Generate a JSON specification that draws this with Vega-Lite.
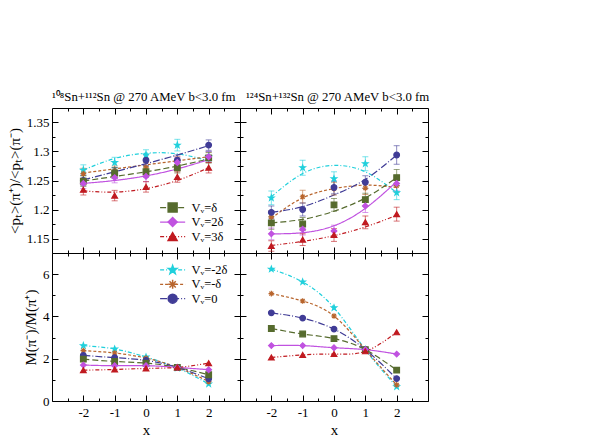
{
"$schema": "https://vega.github.io/schema/vega-lite/v6.json",
"autosize": {"type": "pad"},
"padding": {"left": 6, "top": 90, "right": 5, "bottom": 5},
"config": {
  "view": {"stroke": "#000", "strokeWidth": 1},
  "axis": {"domain": false, "grid": false, "tickColor": "#000", "tickWidth": 1, "labelFont": "Liberation Serif", "labelFontSize": 13, "labelColor": "#000", "titleFont": "Liberation Serif", "titleFontSize": 15, "titleFontWeight": "normal", "titleColor": "#000"},
  "title": {"font": "Liberation Serif", "fontSize": 12.8, "fontWeight": "normal", "color": "#000"},
  "text": {"font": "Liberation Serif"}
},
"datasets": {
  "pts": [
    {"p":"TL","s":"m2","x":-2,"y":1.268,"lo":1.259,"hi":1.277},
    {"p":"TL","s":"m2","x":-1,"y":1.281,"lo":1.272,"hi":1.290},
    {"p":"TL","s":"m2","x":0,"y":1.294,"lo":1.285,"hi":1.303},
    {"p":"TL","s":"m2","x":1,"y":1.311,"lo":1.301,"hi":1.321},
    {"p":"TL","s":"m2","x":2,"y":1.291,"lo":1.282,"hi":1.300},
    {"p":"TL","s":"m1","x":-2,"y":1.262,"lo":1.253,"hi":1.271},
    {"p":"TL","s":"m1","x":-1,"y":1.266,"lo":1.257,"hi":1.275},
    {"p":"TL","s":"m1","x":0,"y":1.272,"lo":1.263,"hi":1.281},
    {"p":"TL","s":"m1","x":1,"y":1.282,"lo":1.273,"hi":1.291},
    {"p":"TL","s":"m1","x":2,"y":1.290,"lo":1.281,"hi":1.299},
    {"p":"TL","s":"z","x":-2,"y":1.250,"lo":1.241,"hi":1.259},
    {"p":"TL","s":"z","x":-1,"y":1.263,"lo":1.254,"hi":1.272},
    {"p":"TL","s":"z","x":0,"y":1.285,"lo":1.276,"hi":1.294},
    {"p":"TL","s":"z","x":1,"y":1.285,"lo":1.276,"hi":1.294},
    {"p":"TL","s":"z","x":2,"y":1.311,"lo":1.302,"hi":1.320},
    {"p":"TL","s":"p1","x":-2,"y":1.249,"lo":1.240,"hi":1.258},
    {"p":"TL","s":"p1","x":-1,"y":1.263,"lo":1.254,"hi":1.272},
    {"p":"TL","s":"p1","x":0,"y":1.265,"lo":1.256,"hi":1.274},
    {"p":"TL","s":"p1","x":1,"y":1.272,"lo":1.263,"hi":1.281},
    {"p":"TL","s":"p1","x":2,"y":1.289,"lo":1.280,"hi":1.298},
    {"p":"TL","s":"p2","x":-2,"y":1.245,"lo":1.236,"hi":1.254},
    {"p":"TL","s":"p2","x":-1,"y":1.255,"lo":1.246,"hi":1.264},
    {"p":"TL","s":"p2","x":0,"y":1.257,"lo":1.248,"hi":1.266},
    {"p":"TL","s":"p2","x":1,"y":1.281,"lo":1.272,"hi":1.290},
    {"p":"TL","s":"p2","x":2,"y":1.291,"lo":1.282,"hi":1.300},
    {"p":"TL","s":"p3","x":-2,"y":1.234,"lo":1.225,"hi":1.243},
    {"p":"TL","s":"p3","x":-1,"y":1.224,"lo":1.215,"hi":1.233},
    {"p":"TL","s":"p3","x":0,"y":1.239,"lo":1.230,"hi":1.248},
    {"p":"TL","s":"p3","x":1,"y":1.256,"lo":1.247,"hi":1.265},
    {"p":"TL","s":"p3","x":2,"y":1.272,"lo":1.263,"hi":1.281},
    {"p":"TR","s":"m2","x":-2,"y":1.220,"lo":1.208,"hi":1.232},
    {"p":"TR","s":"m2","x":-1,"y":1.272,"lo":1.259,"hi":1.285},
    {"p":"TR","s":"m2","x":0,"y":1.253,"lo":1.241,"hi":1.265},
    {"p":"TR","s":"m2","x":1,"y":1.279,"lo":1.267,"hi":1.291},
    {"p":"TR","s":"m2","x":2,"y":1.229,"lo":1.217,"hi":1.241},
    {"p":"TR","s":"m1","x":-2,"y":1.187,"lo":1.176,"hi":1.198},
    {"p":"TR","s":"m1","x":-1,"y":1.222,"lo":1.211,"hi":1.233},
    {"p":"TR","s":"m1","x":0,"y":1.236,"lo":1.225,"hi":1.247},
    {"p":"TR","s":"m1","x":1,"y":1.237,"lo":1.226,"hi":1.248},
    {"p":"TR","s":"m1","x":2,"y":1.241,"lo":1.230,"hi":1.252},
    {"p":"TR","s":"z","x":-2,"y":1.195,"lo":1.184,"hi":1.206},
    {"p":"TR","s":"z","x":-1,"y":1.200,"lo":1.189,"hi":1.211},
    {"p":"TR","s":"z","x":0,"y":1.238,"lo":1.227,"hi":1.249},
    {"p":"TR","s":"z","x":1,"y":1.247,"lo":1.236,"hi":1.258},
    {"p":"TR","s":"z","x":2,"y":1.294,"lo":1.278,"hi":1.310},
    {"p":"TR","s":"p1","x":-2,"y":1.177,"lo":1.166,"hi":1.188},
    {"p":"TR","s":"p1","x":-1,"y":1.175,"lo":1.164,"hi":1.186},
    {"p":"TR","s":"p1","x":0,"y":1.208,"lo":1.197,"hi":1.219},
    {"p":"TR","s":"p1","x":1,"y":1.217,"lo":1.206,"hi":1.228},
    {"p":"TR","s":"p1","x":2,"y":1.255,"lo":1.241,"hi":1.269},
    {"p":"TR","s":"p2","x":-2,"y":1.158,"lo":1.148,"hi":1.168},
    {"p":"TR","s":"p2","x":-1,"y":1.166,"lo":1.156,"hi":1.176},
    {"p":"TR","s":"p2","x":0,"y":1.163,"lo":1.153,"hi":1.173},
    {"p":"TR","s":"p2","x":1,"y":1.206,"lo":1.195,"hi":1.217},
    {"p":"TR","s":"p2","x":2,"y":1.245,"lo":1.232,"hi":1.258},
    {"p":"TR","s":"p3","x":-2,"y":1.137,"lo":1.128,"hi":1.146},
    {"p":"TR","s":"p3","x":-1,"y":1.148,"lo":1.138,"hi":1.158},
    {"p":"TR","s":"p3","x":0,"y":1.156,"lo":1.145,"hi":1.167},
    {"p":"TR","s":"p3","x":1,"y":1.178,"lo":1.167,"hi":1.189},
    {"p":"TR","s":"p3","x":2,"y":1.192,"lo":1.180,"hi":1.204},
    {"p":"BL","s":"m2","x":-2,"y":2.62},{"p":"BL","s":"m2","x":-1,"y":2.46},{"p":"BL","s":"m2","x":0,"y":2.08},{"p":"BL","s":"m2","x":1,"y":1.56},{"p":"BL","s":"m2","x":2,"y":0.81},
    {"p":"BL","s":"m1","x":-2,"y":2.38},{"p":"BL","s":"m1","x":-1,"y":2.27},{"p":"BL","s":"m1","x":0,"y":2.03},{"p":"BL","s":"m1","x":1,"y":1.59},{"p":"BL","s":"m1","x":2,"y":0.92},
    {"p":"BL","s":"z","x":-2,"y":2.16},{"p":"BL","s":"z","x":-1,"y":2.05},{"p":"BL","s":"z","x":0,"y":1.92},{"p":"BL","s":"z","x":1,"y":1.59},{"p":"BL","s":"z","x":2,"y":1.05},
    {"p":"BL","s":"p1","x":-2,"y":1.98},{"p":"BL","s":"p1","x":-1,"y":1.87},{"p":"BL","s":"p1","x":0,"y":1.79},{"p":"BL","s":"p1","x":1,"y":1.59},{"p":"BL","s":"p1","x":2,"y":1.24},
    {"p":"BL","s":"p2","x":-2,"y":1.70},{"p":"BL","s":"p2","x":-1,"y":1.67},{"p":"BL","s":"p2","x":0,"y":1.67},{"p":"BL","s":"p2","x":1,"y":1.59},{"p":"BL","s":"p2","x":2,"y":1.48},
    {"p":"BL","s":"p3","x":-2,"y":1.46},{"p":"BL","s":"p3","x":-1,"y":1.49},{"p":"BL","s":"p3","x":0,"y":1.54},{"p":"BL","s":"p3","x":1,"y":1.59},{"p":"BL","s":"p3","x":2,"y":1.79},
    {"p":"BR","s":"m2","x":-2,"y":6.24},{"p":"BR","s":"m2","x":-1,"y":5.63},{"p":"BR","s":"m2","x":0,"y":4.41},{"p":"BR","s":"m2","x":1,"y":2.43},{"p":"BR","s":"m2","x":2,"y":0.68},
    {"p":"BR","s":"m1","x":-2,"y":5.08},{"p":"BR","s":"m1","x":-1,"y":4.73},{"p":"BR","s":"m1","x":0,"y":4.02},{"p":"BR","s":"m1","x":1,"y":2.43},{"p":"BR","s":"m1","x":2,"y":0.76},
    {"p":"BR","s":"z","x":-2,"y":4.17},{"p":"BR","s":"z","x":-1,"y":3.92},{"p":"BR","s":"z","x":0,"y":3.40},{"p":"BR","s":"z","x":1,"y":2.43},{"p":"BR","s":"z","x":2,"y":1.06},
    {"p":"BR","s":"p1","x":-2,"y":3.43},{"p":"BR","s":"p1","x":-1,"y":3.17},{"p":"BR","s":"p1","x":0,"y":2.95},{"p":"BR","s":"p1","x":1,"y":2.43},{"p":"BR","s":"p1","x":2,"y":1.46},
    {"p":"BR","s":"p2","x":-2,"y":2.62},{"p":"BR","s":"p2","x":-1,"y":2.62},{"p":"BR","s":"p2","x":0,"y":2.52},{"p":"BR","s":"p2","x":1,"y":2.43},{"p":"BR","s":"p2","x":2,"y":2.22},
    {"p":"BR","s":"p3","x":-2,"y":2.06},{"p":"BR","s":"p3","x":-1,"y":2.18},{"p":"BR","s":"p3","x":0,"y":2.22},{"p":"BR","s":"p3","x":1,"y":2.35},{"p":"BR","s":"p3","x":2,"y":3.25}
  ],
  "fit": [
    {"p":"TL","s":"m2","x":-2,"y":1.268},{"p":"TL","s":"m2","x":-1,"y":1.288},{"p":"TL","s":"m2","x":0,"y":1.297},{"p":"TL","s":"m2","x":1,"y":1.296},{"p":"TL","s":"m2","x":2,"y":1.284},
    {"p":"TL","s":"m1","x":-2,"y":1.263},{"p":"TL","s":"m1","x":-1,"y":1.270},{"p":"TL","s":"m1","x":0,"y":1.277},{"p":"TL","s":"m1","x":1,"y":1.284},{"p":"TL","s":"m1","x":2,"y":1.291},
    {"p":"TL","s":"z","x":-2,"y":1.251},{"p":"TL","s":"z","x":-1,"y":1.265},{"p":"TL","s":"z","x":0,"y":1.279},{"p":"TL","s":"z","x":1,"y":1.294},{"p":"TL","s":"z","x":2,"y":1.310},
    {"p":"TL","s":"p1","x":-2,"y":1.249},{"p":"TL","s":"p1","x":-1,"y":1.257},{"p":"TL","s":"p1","x":0,"y":1.265},{"p":"TL","s":"p1","x":1,"y":1.275},{"p":"TL","s":"p1","x":2,"y":1.287},
    {"p":"TL","s":"p2","x":-2,"y":1.245},{"p":"TL","s":"p2","x":-1,"y":1.250},{"p":"TL","s":"p2","x":0,"y":1.258},{"p":"TL","s":"p2","x":1,"y":1.270},{"p":"TL","s":"p2","x":2,"y":1.286},
    {"p":"TL","s":"p3","x":-2,"y":1.232},{"p":"TL","s":"p3","x":-1,"y":1.230},{"p":"TL","s":"p3","x":0,"y":1.236},{"p":"TL","s":"p3","x":1,"y":1.250},{"p":"TL","s":"p3","x":2,"y":1.272},
    {"p":"TR","s":"m2","x":-2,"y":1.222},{"p":"TR","s":"m2","x":-1,"y":1.262},{"p":"TR","s":"m2","x":0,"y":1.276},{"p":"TR","s":"m2","x":1,"y":1.265},{"p":"TR","s":"m2","x":2,"y":1.229},
    {"p":"TR","s":"m1","x":-2,"y":1.185},{"p":"TR","s":"m1","x":-1,"y":1.220},{"p":"TR","s":"m1","x":0,"y":1.236},{"p":"TR","s":"m1","x":1,"y":1.242},{"p":"TR","s":"m1","x":2,"y":1.238},
    {"p":"TR","s":"z","x":-2,"y":1.195},{"p":"TR","s":"z","x":-1,"y":1.205},{"p":"TR","s":"z","x":0,"y":1.225},{"p":"TR","s":"z","x":1,"y":1.252},{"p":"TR","s":"z","x":2,"y":1.294},
    {"p":"TR","s":"p1","x":-2,"y":1.177},{"p":"TR","s":"p1","x":-1,"y":1.183},{"p":"TR","s":"p1","x":0,"y":1.197},{"p":"TR","s":"p1","x":1,"y":1.220},{"p":"TR","s":"p1","x":2,"y":1.255},
    {"p":"TR","s":"p2","x":-2,"y":1.158},{"p":"TR","s":"p2","x":-1,"y":1.160},{"p":"TR","s":"p2","x":0,"y":1.172},{"p":"TR","s":"p2","x":1,"y":1.202},{"p":"TR","s":"p2","x":2,"y":1.248},
    {"p":"TR","s":"p3","x":-2,"y":1.138},{"p":"TR","s":"p3","x":-1,"y":1.145},{"p":"TR","s":"p3","x":0,"y":1.155},{"p":"TR","s":"p3","x":1,"y":1.170},{"p":"TR","s":"p3","x":2,"y":1.190},
    {"p":"BL","s":"m2","x":-2,"y":2.62},{"p":"BL","s":"m2","x":-1,"y":2.46},{"p":"BL","s":"m2","x":0,"y":2.08},{"p":"BL","s":"m2","x":1,"y":1.56},{"p":"BL","s":"m2","x":2,"y":0.81},
    {"p":"BL","s":"m1","x":-2,"y":2.38},{"p":"BL","s":"m1","x":-1,"y":2.27},{"p":"BL","s":"m1","x":0,"y":2.03},{"p":"BL","s":"m1","x":1,"y":1.59},{"p":"BL","s":"m1","x":2,"y":0.92},
    {"p":"BL","s":"z","x":-2,"y":2.16},{"p":"BL","s":"z","x":-1,"y":2.05},{"p":"BL","s":"z","x":0,"y":1.92},{"p":"BL","s":"z","x":1,"y":1.59},{"p":"BL","s":"z","x":2,"y":1.05},
    {"p":"BL","s":"p1","x":-2,"y":1.98},{"p":"BL","s":"p1","x":-1,"y":1.87},{"p":"BL","s":"p1","x":0,"y":1.79},{"p":"BL","s":"p1","x":1,"y":1.59},{"p":"BL","s":"p1","x":2,"y":1.24},
    {"p":"BL","s":"p2","x":-2,"y":1.70},{"p":"BL","s":"p2","x":-1,"y":1.67},{"p":"BL","s":"p2","x":0,"y":1.67},{"p":"BL","s":"p2","x":1,"y":1.59},{"p":"BL","s":"p2","x":2,"y":1.48},
    {"p":"BL","s":"p3","x":-2,"y":1.46},{"p":"BL","s":"p3","x":-1,"y":1.49},{"p":"BL","s":"p3","x":0,"y":1.54},{"p":"BL","s":"p3","x":1,"y":1.59},{"p":"BL","s":"p3","x":2,"y":1.79},
    {"p":"BR","s":"m2","x":-2,"y":6.24},{"p":"BR","s":"m2","x":-1,"y":5.63},{"p":"BR","s":"m2","x":0,"y":4.41},{"p":"BR","s":"m2","x":1,"y":2.43},{"p":"BR","s":"m2","x":2,"y":0.68},
    {"p":"BR","s":"m1","x":-2,"y":5.08},{"p":"BR","s":"m1","x":-1,"y":4.73},{"p":"BR","s":"m1","x":0,"y":4.02},{"p":"BR","s":"m1","x":1,"y":2.43},{"p":"BR","s":"m1","x":2,"y":0.76},
    {"p":"BR","s":"z","x":-2,"y":4.17},{"p":"BR","s":"z","x":-1,"y":3.92},{"p":"BR","s":"z","x":0,"y":3.40},{"p":"BR","s":"z","x":1,"y":2.43},{"p":"BR","s":"z","x":2,"y":1.06},
    {"p":"BR","s":"p1","x":-2,"y":3.43},{"p":"BR","s":"p1","x":-1,"y":3.17},{"p":"BR","s":"p1","x":0,"y":2.95},{"p":"BR","s":"p1","x":1,"y":2.43},{"p":"BR","s":"p1","x":2,"y":1.46},
    {"p":"BR","s":"p2","x":-2,"y":2.62},{"p":"BR","s":"p2","x":-1,"y":2.62},{"p":"BR","s":"p2","x":0,"y":2.52},{"p":"BR","s":"p2","x":1,"y":2.43},{"p":"BR","s":"p2","x":2,"y":2.22},
    {"p":"BR","s":"p3","x":-2,"y":2.06},{"p":"BR","s":"p3","x":-1,"y":2.18},{"p":"BR","s":"p3","x":0,"y":2.22},{"p":"BR","s":"p3","x":1,"y":2.35},{"p":"BR","s":"p3","x":2,"y":3.25}
  ],
  "leg": [
    {"p":"TL","s":"p1","y":1.2034,"label":"Vᵥ=δ"},
    {"p":"TL","s":"p2","y":1.1784,"label":"Vᵥ=2δ"},
    {"p":"TL","s":"p3","y":1.1534,"label":"Vᵥ=3δ"},
    {"p":"BL","s":"m2","y":6.20,"label":"Vᵥ=-2δ"},
    {"p":"BL","s":"m1","y":5.52,"label":"Vᵥ=-δ"},
    {"p":"BL","s":"z","y":4.84,"label":"Vᵥ=0"}
  ]
},
"columns": 2,
"spacing": 0,
"bounds": "flush",
"concat": [
 {
  "width": 188, "height": 145,
  "title": {"text": "¹⁰⁸Sn+¹¹²Sn @ 270 AMeV b<3.0 fm", "anchor": "start", "offset": 4, "frame": "group"},
  "resolve": {"axis": {"x": "independent", "y": "independent"}},
  "layer": [
   {"data": {"name": "fit"}, "transform": [{"filter": "datum.p === 'TL'"}],
    "mark": {"type": "line", "interpolate": "natural", "strokeWidth": 1.2},
    "encoding": {
      "x": {"field": "x", "type": "quantitative", "scale": {"domain": [-3, 3], "nice": false, "zero": false}, "axis": {"orient": "bottom", "values": [-2.5,-2,-1.5,-1,-0.5,0,0.5,1,1.5,2,2.5], "labels": false, "title": null, "tickSize": {"condition": {"test": "datum.value % 1 != 0", "value": -3}, "value": -6}}},
      "y": {"field": "y", "type": "quantitative", "scale": {"domain": [1.125, 1.375], "nice": false, "zero": false}, "axis": {"orient": "left", "values": [1.15,1.175,1.2,1.225,1.25,1.275,1.3,1.325,1.35], "tickSize": {"condition": {"test": "round(datum.value*1000) % 50 != 0", "value": -3}, "value": -6}, "labelExpr": "round(datum.value*1000) % 50 != 0 ? '' : '' + datum.value", "labelPadding": 9, "title": "<pₜ>(π⁺)/<pₜ>(π⁻)", "titlePadding": 4}},
      "color": {"field": "s", "type": "nominal", "legend": null, "scale": {"domain": ["m2","m1","z","p1","p2","p3"], "range": ["#20d0dc","#b8652d","#403c96","#566b2e","#c052e0","#c01a20"]}},
      "strokeDash": {"field": "s", "type": "nominal", "legend": null, "scale": {"domain": ["m2","m1","z","p1","p2","p3"], "range": [[4,2,1,2],[3,2],[7,2,1,2],[6,3],[1,0],[4,2,1,2,1,2]]}}
    }},
   {"data": {"name": "pts"}, "transform": [{"filter": "datum.p === 'TL'"}],
    "mark": {"type": "rule", "strokeWidth": 1, "opacity": 0.6},
    "encoding": {
      "x": {"field": "x", "type": "quantitative", "scale": {"domain": [-3, 3], "nice": false, "zero": false}, "axis": null},
      "y": {"field": "lo", "type": "quantitative", "scale": {"domain": [1.125, 1.375], "nice": false, "zero": false}, "axis": null},
      "y2": {"field": "hi"},
      "color": {"field": "s", "type": "nominal", "legend": null}
    }},
   {"data": {"name": "pts"}, "transform": [{"filter": "datum.p === 'TL'"}],
    "mark": {"type": "tick", "orient": "horizontal", "size": 6, "thickness": 1, "opacity": 0.6},
    "encoding": {
      "x": {"field": "x", "type": "quantitative", "scale": {"domain": [-3, 3], "nice": false, "zero": false}, "axis": null},
      "y": {"field": "lo", "type": "quantitative", "scale": {"domain": [1.125, 1.375], "nice": false, "zero": false}, "axis": null},
      "color": {"field": "s", "type": "nominal", "legend": null}
    }},
   {"data": {"name": "pts"}, "transform": [{"filter": "datum.p === 'TL'"}],
    "mark": {"type": "tick", "orient": "horizontal", "size": 6, "thickness": 1, "opacity": 0.6},
    "encoding": {
      "x": {"field": "x", "type": "quantitative", "scale": {"domain": [-3, 3], "nice": false, "zero": false}, "axis": null},
      "y": {"field": "hi", "type": "quantitative", "scale": {"domain": [1.125, 1.375], "nice": false, "zero": false}, "axis": null},
      "color": {"field": "s", "type": "nominal", "legend": null}
    }},
   {"data": {"name": "pts"}, "transform": [{"filter": "datum.p === 'TL'"}],
    "mark": {"type": "point", "filled": true, "opacity": 1, "size": 32, "strokeWidth": 1.2},
    "encoding": {
      "x": {"field": "x", "type": "quantitative", "scale": {"domain": [-3, 3], "nice": false, "zero": false}, "axis": {"orient": "top", "values": [-2.5,-2,-1.5,-1,-0.5,0,0.5,1,1.5,2,2.5], "labels": false, "title": null, "tickSize": {"condition": {"test": "datum.value % 1 != 0", "value": -3}, "value": -6}}},
      "y": {"field": "y", "type": "quantitative", "scale": {"domain": [1.125, 1.375], "nice": false, "zero": false}, "axis": {"orient": "right", "values": [1.15,1.175,1.2,1.225,1.25,1.275,1.3,1.325,1.35], "labels": false, "title": null, "tickSize": {"condition": {"test": "round(datum.value*1000) % 50 != 0", "value": -3}, "value": -6}}},
      "color": {"field": "s", "type": "nominal", "legend": null},
      "stroke": {"field": "s", "type": "nominal", "legend": null, "scale": {"domain": ["m2","m1","z","p1","p2","p3"], "range": ["#20d0dc","#b8652d","#403c96","#566b2e","#c052e0","#c01a20"]}},
      "shape": {"field": "s", "type": "nominal", "legend": null, "scale": {"domain": ["m2","m1","z","p1","p2","p3"], "range": ["M0,-1L0.24,-0.33L0.95,-0.31L0.38,0.12L0.59,0.81L0,0.4L-0.59,0.81L-0.38,0.12L-0.95,-0.31L-0.24,-0.33Z","M-1,0L1,0M0,-1L0,1M-0.7,-0.7L0.7,0.7M-0.7,0.7L0.7,-0.7","circle","square","diamond","triangle-up"]}}
    }},
   {"data": {"name": "leg"}, "transform": [{"filter": "datum.p === 'TL'"}],
    "mark": {"type": "rule", "strokeWidth": 1.2},
    "encoding": {
      "x": {"datum": 0.45, "type": "quantitative", "scale": {"domain": [-3, 3], "nice": false, "zero": false}, "axis": null},
      "x2": {"datum": 1.25},
      "y": {"field": "y", "type": "quantitative", "scale": {"domain": [1.125, 1.375], "nice": false, "zero": false}, "axis": null},
      "color": {"field": "s", "type": "nominal", "legend": null},
      "strokeDash": {"field": "s", "type": "nominal", "legend": null}
    }},
   {"data": {"name": "leg"}, "transform": [{"filter": "datum.p === 'TL'"}],
    "mark": {"type": "point", "filled": true, "opacity": 1, "size": 80, "strokeWidth": 1.5},
    "encoding": {
      "x": {"datum": 0.85, "type": "quantitative", "scale": {"domain": [-3, 3], "nice": false, "zero": false}, "axis": null},
      "y": {"field": "y", "type": "quantitative", "scale": {"domain": [1.125, 1.375], "nice": false, "zero": false}, "axis": null},
      "color": {"field": "s", "type": "nominal", "legend": null},
      "stroke": {"field": "s", "type": "nominal", "legend": null},
      "shape": {"field": "s", "type": "nominal", "legend": null}
    }},
   {"data": {"name": "leg"}, "transform": [{"filter": "datum.p === 'TL'"}],
    "mark": {"type": "text", "align": "left", "baseline": "middle", "fontSize": 12.5, "color": "#000"},
    "encoding": {
      "x": {"datum": 1.45, "type": "quantitative", "scale": {"domain": [-3, 3], "nice": false, "zero": false}, "axis": null},
      "y": {"field": "y", "type": "quantitative", "scale": {"domain": [1.125, 1.375], "nice": false, "zero": false}, "axis": null},
      "text": {"field": "label"}
    }}
  ]
 },
 {
  "width": 188, "height": 145,
  "title": {"text": "¹²⁴Sn+¹³²Sn @ 270 AMeV b<3.0 fm", "anchor": "start", "offset": 4, "frame": "group", "dx": 6},
  "resolve": {"axis": {"x": "independent", "y": "independent"}},
  "layer": [
   {"data": {"name": "fit"}, "transform": [{"filter": "datum.p === 'TR'"}],
    "mark": {"type": "line", "interpolate": "natural", "strokeWidth": 1.2},
    "encoding": {
      "x": {"field": "x", "type": "quantitative", "scale": {"domain": [-3, 3], "nice": false, "zero": false}, "axis": {"orient": "bottom", "values": [-2.5,-2,-1.5,-1,-0.5,0,0.5,1,1.5,2,2.5], "labels": false, "title": null, "tickSize": {"condition": {"test": "datum.value % 1 != 0", "value": -3}, "value": -6}}},
      "y": {"field": "y", "type": "quantitative", "scale": {"domain": [1.125, 1.375], "nice": false, "zero": false}, "axis": {"orient": "left", "values": [1.15,1.175,1.2,1.225,1.25,1.275,1.3,1.325,1.35], "labels": false, "title": null, "tickSize": {"condition": {"test": "round(datum.value*1000) % 50 != 0", "value": -3}, "value": -6}}},
      "color": {"field": "s", "type": "nominal", "legend": null, "scale": {"domain": ["m2","m1","z","p1","p2","p3"], "range": ["#20d0dc","#b8652d","#403c96","#566b2e","#c052e0","#c01a20"]}},
      "strokeDash": {"field": "s", "type": "nominal", "legend": null, "scale": {"domain": ["m2","m1","z","p1","p2","p3"], "range": [[4,2,1,2],[3,2],[7,2,1,2],[6,3],[1,0],[4,2,1,2,1,2]]}}
    }},
   {"data": {"name": "pts"}, "transform": [{"filter": "datum.p === 'TR'"}],
    "mark": {"type": "rule", "strokeWidth": 1, "opacity": 0.6},
    "encoding": {
      "x": {"field": "x", "type": "quantitative", "scale": {"domain": [-3, 3], "nice": false, "zero": false}, "axis": null},
      "y": {"field": "lo", "type": "quantitative", "scale": {"domain": [1.125, 1.375], "nice": false, "zero": false}, "axis": null},
      "y2": {"field": "hi"},
      "color": {"field": "s", "type": "nominal", "legend": null}
    }},
   {"data": {"name": "pts"}, "transform": [{"filter": "datum.p === 'TR'"}],
    "mark": {"type": "tick", "orient": "horizontal", "size": 6, "thickness": 1, "opacity": 0.6},
    "encoding": {
      "x": {"field": "x", "type": "quantitative", "scale": {"domain": [-3, 3], "nice": false, "zero": false}, "axis": null},
      "y": {"field": "lo", "type": "quantitative", "scale": {"domain": [1.125, 1.375], "nice": false, "zero": false}, "axis": null},
      "color": {"field": "s", "type": "nominal", "legend": null}
    }},
   {"data": {"name": "pts"}, "transform": [{"filter": "datum.p === 'TR'"}],
    "mark": {"type": "tick", "orient": "horizontal", "size": 6, "thickness": 1, "opacity": 0.6},
    "encoding": {
      "x": {"field": "x", "type": "quantitative", "scale": {"domain": [-3, 3], "nice": false, "zero": false}, "axis": null},
      "y": {"field": "hi", "type": "quantitative", "scale": {"domain": [1.125, 1.375], "nice": false, "zero": false}, "axis": null},
      "color": {"field": "s", "type": "nominal", "legend": null}
    }},
   {"data": {"name": "pts"}, "transform": [{"filter": "datum.p === 'TR'"}],
    "mark": {"type": "point", "filled": true, "opacity": 1, "size": 32, "strokeWidth": 1.2},
    "encoding": {
      "x": {"field": "x", "type": "quantitative", "scale": {"domain": [-3, 3], "nice": false, "zero": false}, "axis": {"orient": "top", "values": [-2.5,-2,-1.5,-1,-0.5,0,0.5,1,1.5,2,2.5], "labels": false, "title": null, "tickSize": {"condition": {"test": "datum.value % 1 != 0", "value": -3}, "value": -6}}},
      "y": {"field": "y", "type": "quantitative", "scale": {"domain": [1.125, 1.375], "nice": false, "zero": false}, "axis": {"orient": "right", "values": [1.15,1.175,1.2,1.225,1.25,1.275,1.3,1.325,1.35], "labels": false, "title": null, "tickSize": {"condition": {"test": "round(datum.value*1000) % 50 != 0", "value": -3}, "value": -6}}},
      "color": {"field": "s", "type": "nominal", "legend": null},
      "stroke": {"field": "s", "type": "nominal", "legend": null, "scale": {"domain": ["m2","m1","z","p1","p2","p3"], "range": ["#20d0dc","#b8652d","#403c96","#566b2e","#c052e0","#c01a20"]}},
      "shape": {"field": "s", "type": "nominal", "legend": null, "scale": {"domain": ["m2","m1","z","p1","p2","p3"], "range": ["M0,-1L0.24,-0.33L0.95,-0.31L0.38,0.12L0.59,0.81L0,0.4L-0.59,0.81L-0.38,0.12L-0.95,-0.31L-0.24,-0.33Z","M-1,0L1,0M0,-1L0,1M-0.7,-0.7L0.7,0.7M-0.7,0.7L0.7,-0.7","circle","square","diamond","triangle-up"]}}
    }}
  ]
 },
 {
  "width": 188, "height": 148,
  "resolve": {"axis": {"x": "independent", "y": "independent"}},
  "layer": [
   {"data": {"name": "fit"}, "transform": [{"filter": "datum.p === 'BL'"}],
    "mark": {"type": "line", "interpolate": "natural", "strokeWidth": 1.2},
    "encoding": {
      "x": {"field": "x", "type": "quantitative", "scale": {"domain": [-3, 3], "nice": false, "zero": false}, "axis": {"orient": "bottom", "values": [-2.5,-2,-1.5,-1,-0.5,0,0.5,1,1.5,2,2.5], "tickSize": {"condition": {"test": "datum.value % 1 != 0", "value": -3}, "value": -6}, "labelExpr": "datum.value % 1 != 0 ? '' : (datum.value < 0 ? '-' + (-datum.value) : '' + datum.value)", "labelPadding": 11, "title": "x", "titlePadding": 3}},
      "y": {"field": "y", "type": "quantitative", "scale": {"domain": [0, 7], "nice": false, "zero": false}, "axis": {"orient": "left", "values": [0,1,2,3,4,5,6], "tickSize": {"condition": {"test": "datum.value % 2 != 0", "value": -3}, "value": -6}, "labelExpr": "datum.value % 2 != 0 ? '' : '' + datum.value", "labelPadding": 9, "title": "M(π⁻)/M(π⁺)", "titlePadding": 4}},
      "color": {"field": "s", "type": "nominal", "legend": null, "scale": {"domain": ["m2","m1","z","p1","p2","p3"], "range": ["#20d0dc","#b8652d","#403c96","#566b2e","#c052e0","#c01a20"]}},
      "strokeDash": {"field": "s", "type": "nominal", "legend": null, "scale": {"domain": ["m2","m1","z","p1","p2","p3"], "range": [[4,2,1,2],[3,2],[7,2,1,2],[6,3],[1,0],[4,2,1,2,1,2]]}}
    }},
   {"data": {"name": "pts"}, "transform": [{"filter": "datum.p === 'BL'"}],
    "mark": {"type": "point", "filled": true, "opacity": 1, "size": 32, "strokeWidth": 1.2},
    "encoding": {
      "x": {"field": "x", "type": "quantitative", "scale": {"domain": [-3, 3], "nice": false, "zero": false}, "axis": {"orient": "top", "values": [-2.5,-2,-1.5,-1,-0.5,0,0.5,1,1.5,2,2.5], "labels": false, "title": null, "tickSize": {"condition": {"test": "datum.value % 1 != 0", "value": -3}, "value": -6}}},
      "y": {"field": "y", "type": "quantitative", "scale": {"domain": [0, 7], "nice": false, "zero": false}, "axis": {"orient": "right", "values": [0,1,2,3,4,5,6], "labels": false, "title": null, "tickSize": {"condition": {"test": "datum.value % 2 != 0", "value": -3}, "value": -6}}},
      "color": {"field": "s", "type": "nominal", "legend": null},
      "stroke": {"field": "s", "type": "nominal", "legend": null, "scale": {"domain": ["m2","m1","z","p1","p2","p3"], "range": ["#20d0dc","#b8652d","#403c96","#566b2e","#c052e0","#c01a20"]}},
      "shape": {"field": "s", "type": "nominal", "legend": null, "scale": {"domain": ["m2","m1","z","p1","p2","p3"], "range": ["M0,-1L0.24,-0.33L0.95,-0.31L0.38,0.12L0.59,0.81L0,0.4L-0.59,0.81L-0.38,0.12L-0.95,-0.31L-0.24,-0.33Z","M-1,0L1,0M0,-1L0,1M-0.7,-0.7L0.7,0.7M-0.7,0.7L0.7,-0.7","circle","square","diamond","triangle-up"]}}
    }},
   {"data": {"name": "leg"}, "transform": [{"filter": "datum.p === 'BL'"}],
    "mark": {"type": "rule", "strokeWidth": 1.2},
    "encoding": {
      "x": {"datum": 0.45, "type": "quantitative", "scale": {"domain": [-3, 3], "nice": false, "zero": false}, "axis": null},
      "x2": {"datum": 1.25},
      "y": {"field": "y", "type": "quantitative", "scale": {"domain": [0, 7], "nice": false, "zero": false}, "axis": null},
      "color": {"field": "s", "type": "nominal", "legend": null},
      "strokeDash": {"field": "s", "type": "nominal", "legend": null}
    }},
   {"data": {"name": "leg"}, "transform": [{"filter": "datum.p === 'BL'"}],
    "mark": {"type": "point", "filled": true, "opacity": 1, "size": 80, "strokeWidth": 1.5},
    "encoding": {
      "x": {"datum": 0.85, "type": "quantitative", "scale": {"domain": [-3, 3], "nice": false, "zero": false}, "axis": null},
      "y": {"field": "y", "type": "quantitative", "scale": {"domain": [0, 7], "nice": false, "zero": false}, "axis": null},
      "color": {"field": "s", "type": "nominal", "legend": null},
      "stroke": {"field": "s", "type": "nominal", "legend": null},
      "shape": {"field": "s", "type": "nominal", "legend": null}
    }},
   {"data": {"name": "leg"}, "transform": [{"filter": "datum.p === 'BL'"}],
    "mark": {"type": "text", "align": "left", "baseline": "middle", "fontSize": 12.5, "color": "#000"},
    "encoding": {
      "x": {"datum": 1.45, "type": "quantitative", "scale": {"domain": [-3, 3], "nice": false, "zero": false}, "axis": null},
      "y": {"field": "y", "type": "quantitative", "scale": {"domain": [0, 7], "nice": false, "zero": false}, "axis": null},
      "text": {"field": "label"}
    }}
  ]
 },
 {
  "width": 188, "height": 148,
  "resolve": {"axis": {"x": "independent", "y": "independent"}},
  "layer": [
   {"data": {"name": "fit"}, "transform": [{"filter": "datum.p === 'BR'"}],
    "mark": {"type": "line", "interpolate": "natural", "strokeWidth": 1.2},
    "encoding": {
      "x": {"field": "x", "type": "quantitative", "scale": {"domain": [-3, 3], "nice": false, "zero": false}, "axis": {"orient": "bottom", "values": [-2.5,-2,-1.5,-1,-0.5,0,0.5,1,1.5,2,2.5], "tickSize": {"condition": {"test": "datum.value % 1 != 0", "value": -3}, "value": -6}, "labelExpr": "datum.value % 1 != 0 ? '' : (datum.value < 0 ? '-' + (-datum.value) : '' + datum.value)", "labelPadding": 11, "title": "x", "titlePadding": 3}},
      "y": {"field": "y", "type": "quantitative", "scale": {"domain": [0, 7], "nice": false, "zero": false}, "axis": {"orient": "left", "values": [0,1,2,3,4,5,6], "labels": false, "title": null, "tickSize": {"condition": {"test": "datum.value % 2 != 0", "value": -3}, "value": -6}}},
      "color": {"field": "s", "type": "nominal", "legend": null, "scale": {"domain": ["m2","m1","z","p1","p2","p3"], "range": ["#20d0dc","#b8652d","#403c96","#566b2e","#c052e0","#c01a20"]}},
      "strokeDash": {"field": "s", "type": "nominal", "legend": null, "scale": {"domain": ["m2","m1","z","p1","p2","p3"], "range": [[4,2,1,2],[3,2],[7,2,1,2],[6,3],[1,0],[4,2,1,2,1,2]]}}
    }},
   {"data": {"name": "pts"}, "transform": [{"filter": "datum.p === 'BR'"}],
    "mark": {"type": "point", "filled": true, "opacity": 1, "size": 32, "strokeWidth": 1.2},
    "encoding": {
      "x": {"field": "x", "type": "quantitative", "scale": {"domain": [-3, 3], "nice": false, "zero": false}, "axis": {"orient": "top", "values": [-2.5,-2,-1.5,-1,-0.5,0,0.5,1,1.5,2,2.5], "labels": false, "title": null, "tickSize": {"condition": {"test": "datum.value % 1 != 0", "value": -3}, "value": -6}}},
      "y": {"field": "y", "type": "quantitative", "scale": {"domain": [0, 7], "nice": false, "zero": false}, "axis": {"orient": "right", "values": [0,1,2,3,4,5,6], "labels": false, "title": null, "tickSize": {"condition": {"test": "datum.value % 2 != 0", "value": -3}, "value": -6}}},
      "color": {"field": "s", "type": "nominal", "legend": null},
      "stroke": {"field": "s", "type": "nominal", "legend": null, "scale": {"domain": ["m2","m1","z","p1","p2","p3"], "range": ["#20d0dc","#b8652d","#403c96","#566b2e","#c052e0","#c01a20"]}},
      "shape": {"field": "s", "type": "nominal", "legend": null, "scale": {"domain": ["m2","m1","z","p1","p2","p3"], "range": ["M0,-1L0.24,-0.33L0.95,-0.31L0.38,0.12L0.59,0.81L0,0.4L-0.59,0.81L-0.38,0.12L-0.95,-0.31L-0.24,-0.33Z","M-1,0L1,0M0,-1L0,1M-0.7,-0.7L0.7,0.7M-0.7,0.7L0.7,-0.7","circle","square","diamond","triangle-up"]}}
    }}
  ]
 }
]
}
